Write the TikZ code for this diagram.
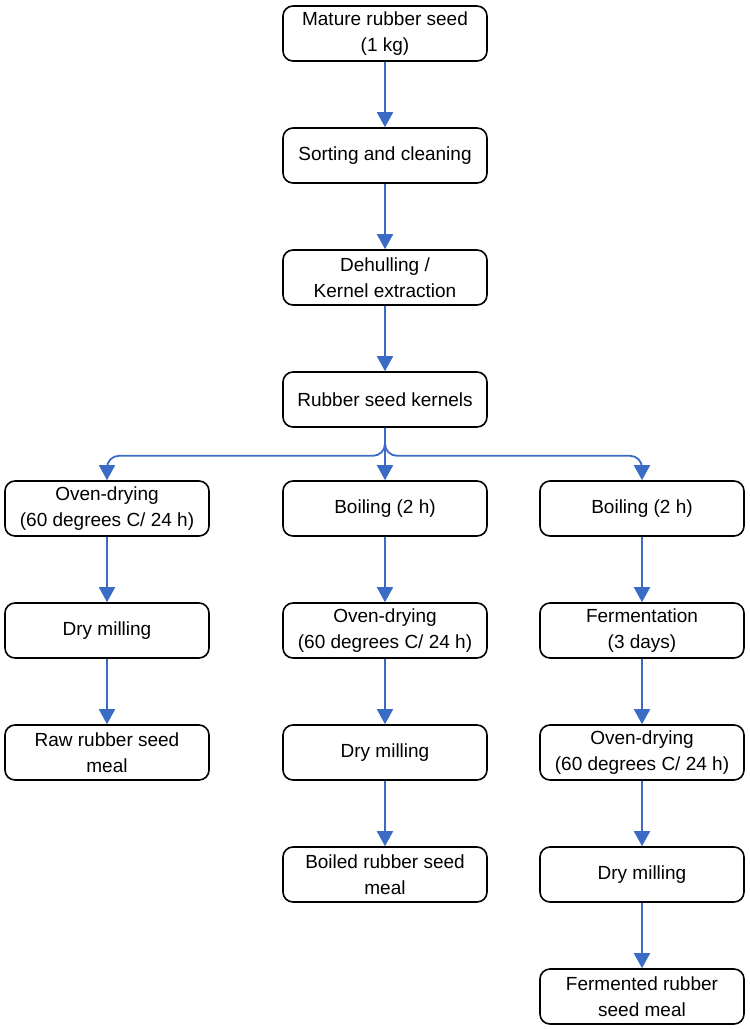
\documentclass[tikz,border=0pt]{standalone}
\usepackage{fontspec}
\setmainfont{Liberation Sans}
\usetikzlibrary{positioning, arrows.meta}
\definecolor{flowblue}{RGB}{58,108,198}

\begin{document}
\begin{tikzpicture}[node distance=122pt]
% Define flow chart styles
\tikzstyle{stage} = [rectangle, rounded corners=10pt, draw=black, line width=1.6pt, fill=white, align=center, minimum height=55pt, minimum width=204pt, font=\fontsize{19}{26}\selectfont]
\tikzstyle{arrow} = [-{Triangle[width=16pt,length=15pt]}, line width=1.8pt, draw=flowblue]
\useasboundingbox (0,0) rectangle (750pt,-1029pt);
% Define nodes (common steps)
\node[stage] (MatureSeed) at (385pt,-33.5pt) {Mature rubber seed\\(1 kg)};
\node[stage, below of=MatureSeed] (Sorting) {Sorting and cleaning};
\node[stage, below of=Sorting] (Dehulling) {Dehulling /\\Kernel extraction};
\node[stage, below of=Dehulling] (Kernels) {Rubber seed kernels};
% Define middle branch (boiled)
\node[stage, below of=Kernels, yshift=13pt] (BoilB) {Boiling (2 h)};
\node[stage, below of=BoilB] (OvenB) {Oven-drying\\(60 degrees C/ 24 h)};
\node[stage, below of=OvenB] (MillB) {Dry milling};
\node[stage, below of=MillB] (MealB) {Boiled rubber seed\\meal};
% Define left branch (raw)
\node[stage, left of=BoilB, xshift=-156pt] (OvenR) {Oven-drying\\(60 degrees C/ 24 h)};
\node[stage, below of=OvenR] (MillR) {Dry milling};
\node[stage, below of=MillR] (MealR) {Raw rubber seed\\meal};
% Define right branch (fermented)
\node[stage, right of=BoilB, xshift=135pt] (BoilF) {Boiling (2 h)};
\node[stage, below of=BoilF] (Ferment) {Fermentation\\(3 days)};
\node[stage, below of=Ferment] (OvenF) {Oven-drying\\(60 degrees C/ 24 h)};
\node[stage, below of=OvenF] (MillF) {Dry milling};
\node[stage, below of=MillF] (MealF) {Fermented rubber\\seed meal};
% Relationships (arrows)
\draw[arrow] (MatureSeed) -- (Sorting);
\draw[arrow] (Sorting) -- (Dehulling);
\draw[arrow] (Dehulling) -- (Kernels);
\draw[arrow] (Kernels) -- (BoilB);
\draw[arrow, rounded corners=12pt] (Kernels.south) -- ++(0,-28pt) -| (OvenR.north);
\draw[arrow, rounded corners=12pt] (Kernels.south) -- ++(0,-28pt) -| (BoilF.north);
\draw[arrow] (OvenR) -- (MillR);
\draw[arrow] (MillR) -- (MealR);
\draw[arrow] (BoilB) -- (OvenB);
\draw[arrow] (OvenB) -- (MillB);
\draw[arrow] (MillB) -- (MealB);
\draw[arrow] (BoilF) -- (Ferment);
\draw[arrow] (Ferment) -- (OvenF);
\draw[arrow] (OvenF) -- (MillF);
\draw[arrow] (MillF) -- (MealF);
\end{tikzpicture}
\end{document}
